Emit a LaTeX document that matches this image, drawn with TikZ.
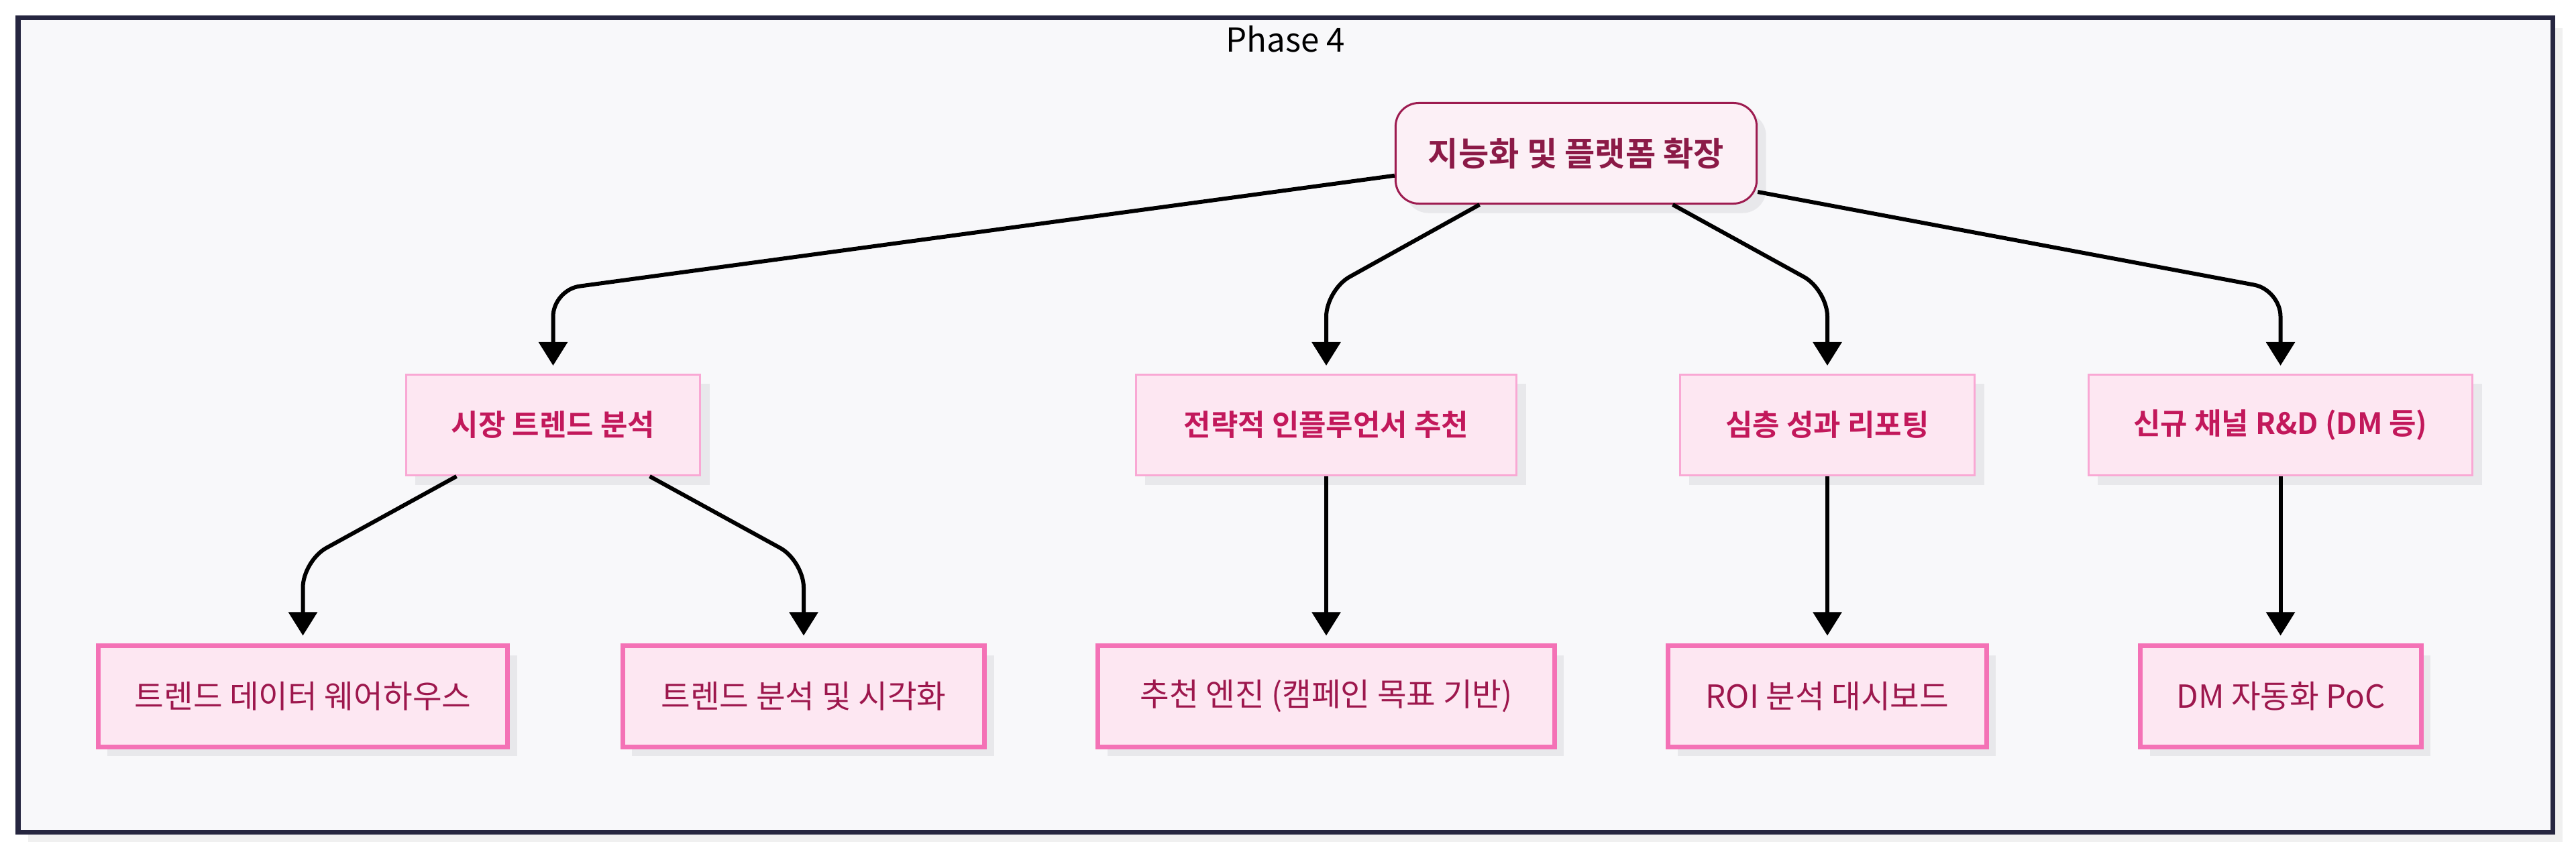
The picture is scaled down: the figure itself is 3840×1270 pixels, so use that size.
\documentclass[tikz,border=0pt]{standalone}
\usepackage{fontspec}
\setmainfont{Noto Sans CJK KR}[BoldFont={Noto Sans CJK KR Bold}]
\usetikzlibrary{arrows.meta,shadows}
\definecolor{frameBg}{HTML}{F8F8FA}
\definecolor{frameLine}{HTML}{262640}
\definecolor{shade}{HTML}{E8E8EB}
\definecolor{rootFill}{HTML}{FCF0F6}
\definecolor{rootLine}{HTML}{9D1C50}
\definecolor{rootText}{HTML}{8B1A47}
\definecolor{pinkFill}{HTML}{FDE7F2}
\definecolor{midLine}{HTML}{F9A8D4}
\definecolor{midText}{HTML}{C2185B}
\definecolor{leafLine}{HTML}{F472B6}
\definecolor{leafText}{HTML}{9D174D}

\begin{document}
\begin{tikzpicture}[x=0.01cm, y=-0.01cm,
    box/.style={rectangle, minimum height=1.5cm, inner sep=0,
        drop shadow={shadow xshift=0.14cm, shadow yshift=-0.14cm, fill=shade, opacity=1}},
    rootbox/.style={box, rounded corners=0.35cm, fill=rootFill, draw=rootLine, line width=0.03cm,
        text=rootText, font=\fontsize{14}{16}\selectfont\bfseries},
    midbox/.style={box, fill=pinkFill, draw=midLine, line width=0.03cm,
        text=midText, font=\fontsize{12.5}{15}\selectfont\bfseries},
    leafbox/.style={box, fill=pinkFill, draw=leafLine, line width=0.07cm,
        text=leafText, font=\fontsize{13.5}{16}\selectfont},
    link/.style={-{Triangle[length=0.35cm,width=0.42cm]}, line width=0.06cm,
        rounded corners=0.4cm, shorten >=0.12cm}]
    \useasboundingbox (0,0) rectangle (3840,1270);
    \draw[fill=frameBg, draw=frameLine, line width=0.07cm,
        drop shadow={shadow xshift=0.15cm, shadow yshift=-0.15cm, fill=black!6, opacity=1}]
        (27,27) rectangle (3805,1240);
    \node[anchor=base, font=\fontsize{14}{16}\selectfont] (ttl) at (1916,78) {Phase 4};

    \node[rootbox, minimum width=5.38cm] (root) at (2349.5,228.5) {지능화 및 플랫폼 확장};

    \node[midbox, minimum width=4.38cm] (mkt) at (824.5,633.5) {시장 트렌드 분석};
    \node[midbox, minimum width=5.67cm] (rec) at (1977,633.5) {전략적 인플루언서 추천};
    \node[midbox, minimum width=4.39cm] (rep) at (2724,633.5) {심층 성과 리포팅};
    \node[midbox, minimum width=5.72cm] (rnd) at (3399.5,633.5) {신규 채널 R\&D (DM 등)};

    \node[leafbox, minimum width=6.10cm] (dw) at (451.5,1038) {트렌드 데이터 웨어하우스};
    \node[leafbox, minimum width=5.39cm] (viz) at (1198,1038) {트렌드 분석 및 시각화};
    \node[leafbox, minimum width=6.80cm] (eng) at (1977,1038) {추천 엔진 (캠페인 목표 기반)};
    \node[leafbox, minimum width=4.74cm] (roi) at (2724,1038) {ROI 분석 대시보드};
    \node[leafbox, minimum width=4.18cm] (poc) at (3400,1038) {DM 자동화 PoC};

    \coordinate (lvA) at (0,432);
    \coordinate (lvB) at (0,836);
    \draw[link] (root.187) -- (lvA -| mkt) -- (mkt);
    \draw[link] (root.208) -- (lvA -| rec) -- (rec);
    \draw[link] (root.332) -- (lvA -| rep) -- (rep);
    \draw[link] (root.348) -- (lvA -| rnd) -- (rnd);
    \draw[link] (mkt.208) -- (lvB -| dw) -- (dw);
    \draw[link] (mkt.332) -- (lvB -| viz) -- (viz);
    \draw[link] (rec) -- (rec |- eng.north);
    \draw[link] (rep) -- (rep |- roi.north);
    \draw[link] (rnd) -- (rnd |- poc.north);
\end{tikzpicture}
\end{document}
